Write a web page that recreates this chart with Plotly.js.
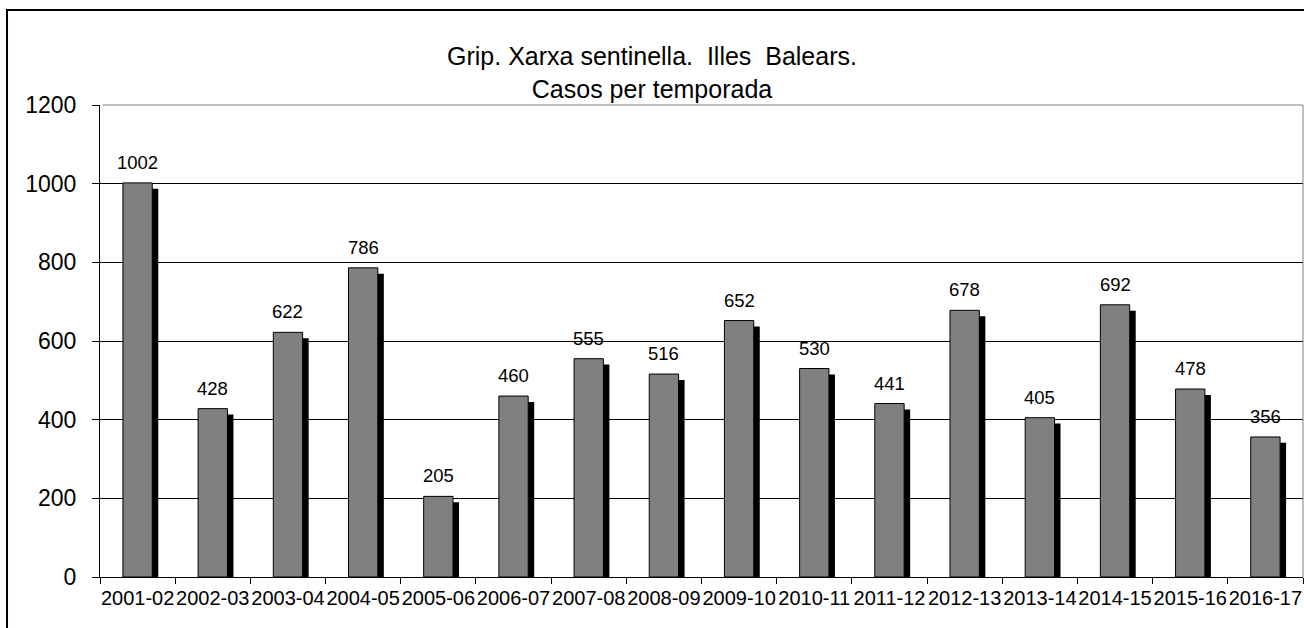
<!DOCTYPE html>
<html>
<head>
<meta charset="utf-8">
<script src="https://cdn.plot.ly/plotly-3.0.1.min.js"></script>
<style>html,body{margin:0;padding:0;background:#fff;}#chart{width:1304px;height:628px;}</style>
</head>
<body>
<div id="chart"></div>
<script>
const seasons = ["2001-02","2002-03","2003-04","2004-05","2005-06","2006-07","2007-08","2008-09","2009-10","2010-11","2011-12","2012-13","2013-14","2014-15","2015-16","2016-17"];
const cases = [1002, 428, 622, 786, 205, 460, 555, 516, 652, 530, 441, 678, 405, 692, 478, 356];
const yTicks = [0, 200, 400, 600, 800, 1000, 1200];
const titleLines = ["Grip. Xarxa sentinella.&nbsp; Illes&nbsp; Balears.", "Casos per temporada"];

const FONT = "Liberation Sans, Arial, sans-serif";
const barWidth = 0.39;

const shadow = {
  type: "bar", x: seasons, y: cases, base: -15,
  width: barWidth, offset: -barWidth/2 + 0.08,
  marker: {color: "#000000", line: {width: 0}},
  hoverinfo: "skip", showlegend: false
};
const bars = {
  type: "bar", x: seasons, y: cases,
  width: barWidth, offset: -barWidth/2,
  marker: {color: "#808080", line: {color: "#000000", width: 1}},
  showlegend: false
};

const annotations = seasons.map((s, i) => ({
  x: s, y: cases[i], xref: "x", yref: "y",
  text: String(cases[i]), showarrow: false,
  yanchor: "bottom", yshift: 8,
  font: {family: FONT, size: 18.5, color: "#000"}
}));

const layout = {
  width: 1304, height: 628,
  margin: {l: 100, r: 1, t: 105, b: 51, pad: 0},
  paper_bgcolor: "#fff", plot_bgcolor: "#fff",
  barmode: "overlay",
  title: {
    text: titleLines.join("<br>"),
    x: 0.5, xref: "container", xanchor: "center",
    y: 1 - 65/628, yref: "container", yanchor: "middle",
    font: {family: FONT, size: 25, color: "#000"}
  },
  xaxis: {
    type: "category", categoryarray: seasons,
    showgrid: false, showline: true, linecolor: "#000", linewidth: 1,
    ticks: "outside", tickson: "boundaries", ticklen: 6, tickcolor: "#000",
    tickangle: 0, ticklabelstandoff: 3,
    tickfont: {family: FONT, size: 20, color: "#000"},
    range: [-0.5, 15.5], fixedrange: true
  },
  yaxis: {
    range: [0, 1200], tickvals: yTicks, ticktext: yTicks.map(String),
    showgrid: true, gridcolor: "#000", gridwidth: 1,
    zeroline: false, showline: true, linecolor: "#000", linewidth: 1,
    ticks: "outside", ticklen: 7, tickcolor: "#000",
    ticklabelstandoff: 11,
    tickfont: {family: FONT, size: 23, color: "#000"}
  },
  shapes: [
    {type: "line", xref: "paper", yref: "paper", x0: 0.002, x1: 1, y0: 1, y1: 1, line: {color: "#808080", width: 1}, layer: "above"},
    {type: "line", xref: "paper", yref: "paper", x0: 1, x1: 1, y0: 0, y1: 1, line: {color: "#808080", width: 1}, layer: "above"},
    {type: "rect", xref: "paper", yref: "paper", x0: -0.0773, x1: 1.2, y0: -0.3, y1: 1.2013, line: {color: "#000", width: 2}, fillcolor: "rgba(0,0,0,0)", layer: "above"}
  ],
  annotations: annotations
};

Plotly.newPlot("chart", [shadow, bars], layout, {displayModeBar: false, staticPlot: true});
</script>
</body>
</html>
